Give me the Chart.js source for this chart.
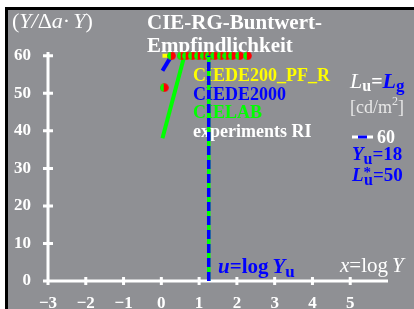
<!DOCTYPE html>
<html lang="de">
<head>
<meta charset="UTF-8">
<title>CIE-RG-Buntwert-Empfindlichkeit</title>
<script src="https://cdn.jsdelivr.net/npm/chart.js"></script>
<style>
  html, body { margin: 0; padding: 0; background: #fff; }
  .chart-box { position: relative; width: 414px; height: 309px; }
</style>
</head>
<body>
<div class="chart-box"><canvas id="chart" width="414" height="309"></canvas></div>
<script>
// tick labels
const xTicks = [-3, -2, -1, 0, 1, 2, 3, 4, 5];
const yTicks = [0, 10, 20, 30, 40, 50, 60];

// CIELAB (green line)
const labX = [0.03, 0.61];
const labY = [38, 60];
// CIEDE2000 (blue line)
const de2000X = [0.03, 0.24];
const de2000Y = [56, 59.5];
// CIEDE200_PF_R (yellow line)
const pfrX = [0.03, 0.27];
const pfrY = [60, 60];
// experiments RI (dots)
const expX = [0.08, 0.27, 0.53, 0.66, 0.82, 0.98, 1.13, 1.27, 1.41, 1.58, 1.73, 1.88, 2.07, 2.28];
const expY = [51.5, 60, 60, 60, 60, 60, 60, 60, 60, 60, 60, 60, 60, 60];
// u = log Yu, Yu = 18
const uX = [1.255, 1.255];
const uY = [0, 60];

const SERIF = "'Liberation Serif', 'Times New Roman', serif";
const GREY = '#8f9094';

function pts(xs, ys) {
    return xs.map((x, i) => ({ x: x, y: ys[i] }));
}

// half green / half red dot
const dot = document.createElement('canvas');
dot.width = 9; dot.height = 9;
const dc = dot.getContext('2d');
dc.fillStyle = '#ff0000';
dc.beginPath(); dc.arc(4.5, 4.5, 4.3, 0, Math.PI * 2); dc.fill();
dc.save();
dc.beginPath(); dc.rect(0, 0, 3.8, 9); dc.clip();
dc.fillStyle = '#00ff00';
dc.beginPath(); dc.arc(4.5, 4.5, 4.3, 0, Math.PI * 2); dc.fill();
dc.restore();

// draw a row of text pieces with different styles
function runs(ctx, x, y, parts) {
    ctx.textBaseline = 'alphabetic';
    ctx.textAlign = 'left';
    parts.forEach(p => {
        ctx.font = p.f;
        ctx.fillStyle = p.c;
        ctx.fillText(p.t, x, y + (p.dy || 0));
        x += ctx.measureText(p.t).width + (p.sp || 0);
    });
}

const frame = {
    id: 'frame',
    beforeDraw(chart) {
        const ctx = chart.ctx;
        ctx.save();
        ctx.fillStyle = '#fff';
        ctx.fillRect(0, 0, 414, 309);
        ctx.fillStyle = '#000';
        ctx.fillRect(5, 7, 409, 302);
        ctx.fillStyle = GREY;
        ctx.fillRect(8, 10, 406, 299);
        ctx.restore();
    }
};

const axesAndText = {
    id: 'axesAndText',
    beforeDatasetsDraw(chart) {
        const ctx = chart.ctx;
        const xs = chart.scales.x, ys = chart.scales.y;
        const a = chart.chartArea;
        ctx.save();
        ctx.strokeStyle = '#fff';
        ctx.lineWidth = 3;
        ctx.beginPath();
        ctx.moveTo(a.left, a.top); ctx.lineTo(a.left, a.bottom + 1.5);
        ctx.moveTo(a.left - 1.5, a.bottom); ctx.lineTo(a.right, a.bottom);
        yTicks.forEach(v => {
            const py = ys.getPixelForValue(v);
            ctx.moveTo(a.left - 5, py); ctx.lineTo(a.left + 5, py);
        });
        xTicks.forEach(v => {
            const px = xs.getPixelForValue(v);
            ctx.moveTo(px, a.bottom - 4); ctx.lineTo(px, a.bottom + 4);
        });
        ctx.stroke();

        const W = '#ffffff', B = '#0000ff';
        // axis titles
        runs(ctx, 12, 28, [
            { t: '(', f: '22px ' + SERIF, c: W },
            { t: 'Y/', f: 'italic 22px ' + SERIF, c: W },
            { t: 'Δ', f: '22px ' + SERIF, c: W },
            { t: 'a', f: 'italic 22px ' + SERIF, c: W },
            { t: '·', f: '22px ' + SERIF, c: W, sp: 3 },
            { t: 'Y', f: 'italic 22px ' + SERIF, c: W },
            { t: ')', f: '22px ' + SERIF, c: W }
        ]);
        runs(ctx, 147, 29, [{ t: 'CIE-RG-Buntwert-', f: 'bold 21px ' + SERIF, c: W }]);
        runs(ctx, 147, 52, [{ t: 'Empfindlichkeit', f: 'bold 21px ' + SERIF, c: W }]);

        // legend
        runs(ctx, 193, 81, [{ t: 'CIEDE200_PF_R', f: 'bold 18px ' + SERIF, c: '#ffff00' }]);
        runs(ctx, 193, 100, [{ t: 'CIEDE2000', f: 'bold 18px ' + SERIF, c: B }]);
        runs(ctx, 193, 118, [{ t: 'CIELAB', f: 'bold 18px ' + SERIF, c: '#00ff00' }]);
        runs(ctx, 193, 137, [{ t: 'experiments RI', f: 'bold 18px ' + SERIF, c: W }]);

        // right side info
        runs(ctx, 350, 88, [
            { t: 'L', f: 'italic 22px ' + SERIF, c: W },
            { t: 'u', f: 'bold 16px ' + SERIF, c: W, dy: 3 },
            { t: '=', f: 'bold 20px ' + SERIF, c: W },
            { t: 'L', f: 'italic bold 22px ' + SERIF, c: B },
            { t: 'g', f: 'bold 17px ' + SERIF, c: B, dy: 3 }
        ]);
        runs(ctx, 350, 113, [
            { t: '[cd/m', f: '18px ' + SERIF, c: '#e8e8e8' },
            { t: '2', f: '12px ' + SERIF, c: '#e8e8e8', dy: -8 },
            { t: ']', f: '18px ' + SERIF, c: '#e8e8e8' }
        ]);
        ctx.lineWidth = 3;
        ctx.strokeStyle = W;
        ctx.beginPath(); ctx.moveTo(352, 137); ctx.lineTo(373, 137); ctx.stroke();
        ctx.strokeStyle = B;
        ctx.beginPath(); ctx.moveTo(358, 137); ctx.lineTo(367, 137); ctx.stroke();
        runs(ctx, 377, 143, [{ t: '60', f: 'bold 18px ' + SERIF, c: W }]);
        runs(ctx, 352, 160, [
            { t: 'Y', f: 'italic bold 19px ' + SERIF, c: B },
            { t: 'u', f: 'bold 16px ' + SERIF, c: B, dy: 4 },
            { t: '=18', f: 'bold 19px ' + SERIF, c: B }
        ]);
        runs(ctx, 352, 181, [
            { t: 'L', f: 'italic bold 19px ' + SERIF, c: B },
            { t: '*', f: 'bold 15px ' + SERIF, c: B, dy: -4, sp: -7 },
            { t: 'u', f: 'bold 16px ' + SERIF, c: B, dy: 4 },
            { t: '=50', f: 'bold 19px ' + SERIF, c: B }
        ]);

        // axis variable labels
        runs(ctx, 218, 273, [
            { t: 'u', f: 'italic bold 21px ' + SERIF, c: B },
            { t: '=log', f: 'bold 21px ' + SERIF, c: B, sp: 4 },
            { t: 'Y', f: 'italic bold 21px ' + SERIF, c: B },
            { t: 'u', f: 'bold 17px ' + SERIF, c: B, dy: 4 }
        ]);
        runs(ctx, 340, 272, [
            { t: 'x', f: 'italic 21px ' + SERIF, c: W },
            { t: '=log', f: '21px ' + SERIF, c: W, sp: 4 },
            { t: 'Y', f: 'italic 21px ' + SERIF, c: W }
        ]);
        ctx.restore();
    }
};

new Chart(document.getElementById('chart'), {
    type: 'scatter',
    data: {
        datasets: [
            {
                label: 'u=log Yu blue',
                data: pts(uX, uY),
                showLine: true,
                borderColor: '#0000ff',
                borderWidth: 3.5,
                borderDash: [9, 5],
                pointRadius: 0,
                order: 0
            },
            {
                label: 'u=log Yu green',
                data: pts(uX, uY),
                showLine: true,
                borderColor: '#00ff00',
                borderWidth: 3.5,
                pointRadius: 0,
                order: 1
            },
            {
                label: 'experiments RI',
                data: pts(expX, expY),
                pointStyle: dot,
                showLine: false,
                order: 2
            },
            {
                label: 'CIEDE200_PF_R',
                data: pts(pfrX, pfrY),
                showLine: true,
                borderColor: '#ffff00',
                borderWidth: 4,
                pointRadius: 0,
                order: 3
            },
            {
                label: 'CIEDE2000',
                data: pts(de2000X, de2000Y),
                showLine: true,
                borderColor: '#0000ff',
                borderWidth: 4,
                pointRadius: 0,
                order: 4
            },
            {
                label: 'CIELAB',
                data: pts(labX, labY),
                showLine: true,
                borderColor: '#00ff00',
                borderWidth: 4,
                pointRadius: 0,
                order: 5
            }
        ]
    },
    options: {
        responsive: false,
        animation: false,
        devicePixelRatio: 1,
        layout: { padding: { left: 7, top: 52, right: 26, bottom: 0 } },
        plugins: { legend: { display: false }, tooltip: { enabled: false } },
        scales: {
            x: {
                type: 'linear',
                min: -3,
                max: 6,
                grid: { display: false },
                border: { display: false },
                afterBuildTicks: s => { s.ticks = xTicks.map(v => ({ value: v })); },
                afterFit: s => { s.height = 28; },
                ticks: {
                    color: '#ffffff',
                    padding: 4,
                    maxRotation: 0,
                    autoSkip: false,
                    font: { family: SERIF, size: 17, weight: 'bold' },
                    callback: v => v < 0 ? '\u2212' + Math.abs(v) : String(v)
                }
            },
            y: {
                type: 'linear',
                min: 0,
                max: 61,
                grid: { display: false },
                border: { display: false },
                afterBuildTicks: s => { s.ticks = yTicks.map(v => ({ value: v })); },
                afterFit: s => { s.width = 41; },
                ticks: {
                    color: '#ffffff',
                    padding: 9,
                    autoSkip: false,
                    font: { family: SERIF, size: 17, weight: 'bold' }
                }
            }
        }
    },
    plugins: [frame, axesAndText]
});
</script>
</body>
</html>
